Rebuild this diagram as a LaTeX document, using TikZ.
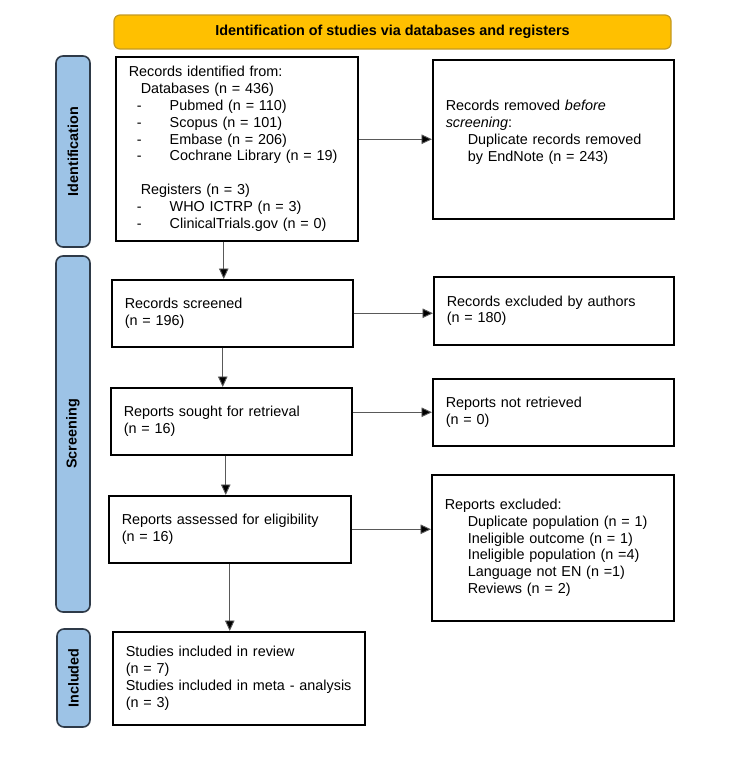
\documentclass[tikz,border=0pt]{standalone}
\usepackage{fontspec}
\setmainfont{Liberation Sans}
\usepackage{xcolor}
\usetikzlibrary{arrows.meta,positioning,calc}
\definecolor{headfill}{HTML}{FFC000}
\definecolor{headline}{HTML}{C49A22}
\definecolor{barfill}{HTML}{9DC3E6}
\definecolor{barline}{HTML}{2E3A48}
\begin{document}
\begin{tikzpicture}[x=1pt,y=-1pt,font=\fontsize{14.4}{16.8}\selectfont,
  head/.style={draw=headline,fill=headfill,line width=1.2pt,rounded corners=6pt,minimum width=557pt,minimum height=34pt,font=\fontsize{14.4}{16.8}\selectfont\bfseries},
  bar/.style={draw=barline,fill=barfill,line width=1.6pt,rounded corners=7pt,rotate=90,font=\fontsize{14.4}{16.8}\selectfont\bfseries},
  box/.style={draw,line width=1.5pt,anchor=north west,align=left,inner xsep=13pt,inner ysep=0pt},
  arr/.style={draw=black!65,line width=0.9pt,-{Triangle[length=10.5pt,width=9.5pt,fill=black]}}]
\useasboundingbox (0,0) rectangle (750,766);
\node[head] (top) at (392.5,32) {Identification of studies via databases and registers};
\node[bar,minimum width=191pt,minimum height=34pt] (idbar) at (73,151.5) {Identification};
\node[bar,minimum width=356pt,minimum height=34pt] (scrbar) at (73,434) {Screening};
\node[bar,minimum width=98pt,minimum height=33pt] (incbar) at (73.5,678) {Included};
\node[box,text width=216pt,minimum height=184pt] (idbox) at (115,56) {Records identified from:\\
  \hspace*{12pt}Databases (n = 436)\\
  \hspace*{8pt}\makebox[33pt][l]{-}Pubmed (n = 110)\\
  \hspace*{8pt}\makebox[33pt][l]{-}Scopus (n = 101)\\
  \hspace*{8pt}\makebox[33pt][l]{-}Embase (n = 206)\\
  \hspace*{8pt}\makebox[33pt][l]{-}Cochrane Library (n = 19)\\
  \mbox{}\\
  \hspace*{12pt}Registers (n = 3)\\
  \hspace*{8pt}\makebox[33pt][l]{-}WHO ICTRP (n = 3)\\
  \hspace*{8pt}\makebox[33pt][l]{-}ClinicalTrials.gov (n = 0)};
\node[box,text width=215pt,minimum height=159pt] (removed) at (432,59) {Records removed \textit{before}\\
  \textit{screening}:\\
  \hspace*{22pt}Duplicate records removed\\
  \hspace*{22pt}by EndNote (n = 243)\\
  \mbox{}};
\node[box,text width=215pt,minimum height=67pt] (screened) at (111,279) {Records screened\\(n = 196)};
\node[box,text width=214pt,minimum height=68pt] (excluded) at (433,276) {Records excluded by authors\\(n = 180)};
\node[box,text width=215pt,minimum height=67pt] (sought) at (110,387) {Reports sought for retrieval\\(n = 16)};
\node[box,text width=215pt,minimum height=67pt] (notret) at (432,378) {Reports not retrieved\\(n = 0)};
\node[box,text width=216pt,minimum height=67pt] (assessed) at (108,495) {Reports assessed for eligibility\\(n = 16)};
\node[box,text width=216pt,minimum height=146pt] (repexcl) at (431,474) {Reports excluded:\\
  \hspace*{23pt}Duplicate population (n = 1)\\
  \hspace*{23pt}Ineligible outcome (n = 1)\\
  \hspace*{23pt}Ineligible population (n =4)\\
  \hspace*{23pt}Language not EN (n =1)\\
  \hspace*{23pt}Reviews (n = 2)};
\node[box,text width=226pt,minimum height=93pt] (studies) at (112,631) {Studies included in review\\(n = 7)\\Studies included in meta - analysis\\(n = 3)};
\draw[arr] (removed.west -| idbox.east) -- (removed.west);
\draw[arr] (screened.east) -- (screened.east -| excluded.west);
\draw[arr] (notret.west -| sought.east) -- (notret.west);
\draw[arr] (assessed.east) -- (assessed.east -| repexcl.west);
\draw[arr] ([xshift=-13pt]idbox.south) -- ([xshift=-13pt]idbox.south |- screened.north);
\draw[arr] ([xshift=-9.5pt]screened.south) -- ([xshift=-9.5pt]screened.south |- sought.north);
\draw[arr] ([xshift=-5.5pt]sought.south) -- ([xshift=-5.5pt]sought.south |- assessed.north);
\draw[arr] (assessed.south) -- (assessed.south |- studies.north);
\end{tikzpicture}
\end{document}
